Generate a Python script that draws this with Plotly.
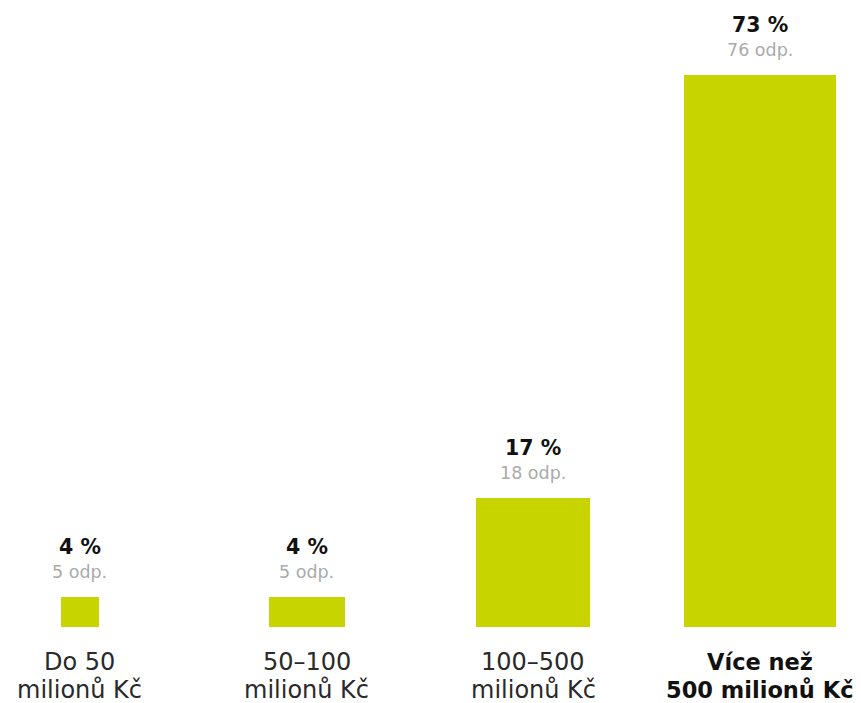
import plotly.graph_objects as go

categories = ["Do 50<br>milionů Kč", "50–100<br>milionů Kč", "100–500<br>milionů Kč", "Více než<br>500 milionů Kč"]
percents = [4, 4, 17, 73]
responses = [5, 5, 18, 76]

x_pos = [0, 1, 2, 3]
bar_widths = [0.168, 0.335, 0.503, 0.671]
bar_color = "#C8D400"
font_family = "DejaVu Sans"

fig = go.Figure(
    go.Bar(
        x=x_pos,
        y=percents,
        width=bar_widths,
        marker=dict(color=bar_color, line=dict(width=0)),
        hoverinfo="skip",
    )
)

annotations = []
for i, (p, r) in enumerate(zip(percents, responses)):
    annotations.append(dict(
        x=x_pos[i], y=p, xref="x", yref="y",
        text=f"<b>{p} %</b>", showarrow=False,
        yanchor="middle", yshift=50,
        font=dict(family=font_family, size=20.5, color="#111111"),
    ))
    annotations.append(dict(
        x=x_pos[i], y=p, xref="x", yref="y",
        text=f"{r} odp.", showarrow=False,
        yanchor="middle", yshift=25,
        font=dict(family=font_family, size=17.5, color="#aaaaaa"),
    ))
    last = i == len(categories) - 1
    for j, line in enumerate(categories[i].split("<br>")):
        annotations.append(dict(
            x=x_pos[i], y=0, xref="x", yref="paper",
            text=(f"<b>{line}</b>" if last else line),
            showarrow=False, yanchor="middle", yshift=-35 - 28 * j,
            font=dict(family=font_family, size=22.5 if last else 24,
                      color="#111111" if last else "#2a2a2a"),
        ))

fig.update_layout(
    width=861, height=703,
    margin=dict(l=0, r=0, t=0, b=84),
    paper_bgcolor="white", plot_bgcolor="white",
    showlegend=False,
    xaxis=dict(range=[-0.3176, 3.481], visible=False, fixedrange=True),
    yaxis=dict(range=[0, 81.86], visible=False, fixedrange=True),
    annotations=annotations,
    bargap=0,
)

fig.write_html("out.html", config={"displayModeBar": False})
